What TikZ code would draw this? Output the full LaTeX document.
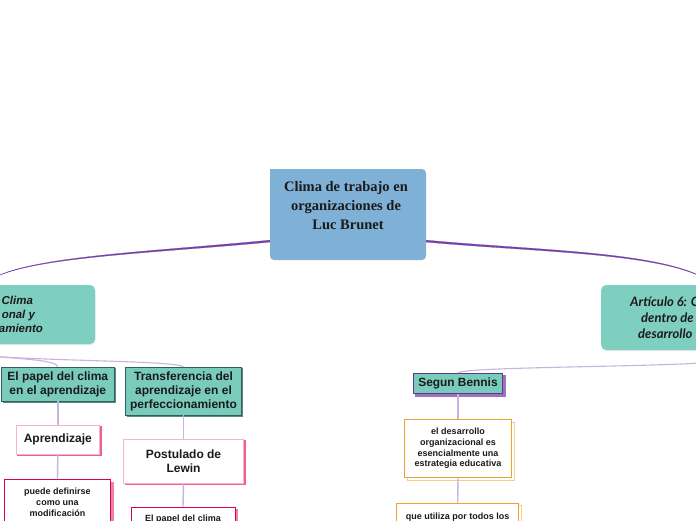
\documentclass[tikz,border=0pt]{standalone}
\usepackage{fontspec}
\setmainfont{Liberation Sans}
\newfontfamily\titlefont{Liberation Serif}
\newfontfamily\artfont{Lato}
\usetikzlibrary{shadows,calc}
\definecolor{rootblue}{HTML}{7FB0D6}
\definecolor{tealmain}{HTML}{7FCFC1}
\definecolor{tealsub}{HTML}{79CBBC}
\definecolor{tealedge}{HTML}{2F5F5A}
\definecolor{tealshadow}{HTML}{5F8A84}
\definecolor{mainline}{HTML}{7441A6}
\definecolor{subline}{HTML}{C9B4DE}
\definecolor{pinklight}{HTML}{F9B4CD}
\definecolor{pinkdark}{HTML}{EF5F90}
\definecolor{crimson}{HTML}{D8004F}
\definecolor{pinkshadow}{HTML}{F27FAB}
\definecolor{orangeedge}{HTML}{F0A030}
\definecolor{orangeshadow}{HTML}{F9CC88}
\definecolor{purpleedge}{HTML}{5B3A8E}
\definecolor{purpleshadow}{HTML}{9A72C0}
\definecolor{ink}{HTML}{1A1A1A}
\tikzset{
  every node/.style={inner sep=0pt,align=center,text=ink},
  offset/.style n args={3}{preaction={draw=#2,fill=#3,transform canvas={xshift=#1,yshift=-#1}}},
  rootbox/.style={fill=rootblue,rounded corners=4pt,font=\titlefont\bfseries\fontsize{14.5}{19}\selectfont},
  mainbox/.style={fill=tealmain,rounded corners=5pt,drop shadow={shadow xshift=0.5pt,shadow yshift=-1pt,opacity=.18}},
  subbox/.style={fill=tealsub,draw=tealedge,line width=.9pt,font=\bfseries\fontsize{12}{14}\selectfont,
    offset={1.6pt}{tealshadow}{tealshadow}},
  bennisbox/.style={fill=tealsub,draw=purpleedge,line width=.9pt,font=\bfseries\fontsize{11.9}{14}\selectfont,
    offset={2.4pt}{purpleshadow}{purpleshadow}},
  pinkbox/.style={fill=white,draw=pinklight,line width=1pt,font=\bfseries\fontsize{12}{14}\selectfont,
    offset={1.8pt}{pinkdark}{pinkdark}},
  leafbox/.style={fill=white,draw=crimson,line width=.8pt,font=\bfseries\fontsize{9}{10.7}\selectfont,
    offset={2.8pt}{pinkshadow}{pinkshadow}},
  orangebox/.style={fill=white,draw=orangeedge,line width=.8pt,font=\bfseries\fontsize{9}{10.7}\selectfont,
    offset={2.8pt}{orangeshadow}{white}},
  stem/.style={draw=subline,line width=1.4pt},
  branch/.style={draw=subline,line width=1.1pt},
  trunk/.style={draw=mainline,fill=mainline,line width=.2pt},
}
\begin{document}
\begin{tikzpicture}[x=1pt,y=-1pt]
\useasboundingbox (0,0) rectangle (696,520);
\clip (0,0) rectangle (696,520);
\fill[white] (0,0) rectangle (696,520);
\coordinate (rootL) at (271,241);
\coordinate (rootR) at (425,241);
\coordinate (leftEnd) at (-12,281);
\coordinate (rightEnd) at (712,283);
\coordinate (leftOut) at (-4,356.5);
\coordinate (rightOut) at (700,363);
% trunks
\draw[trunk] ($(rootL)+(0,-1)$) .. controls (150,252) and (25,256) .. (leftEnd)
  .. controls (25,257) and (150,253.6) .. ($(rootL)+(0,1)$) -- cycle;
\draw[trunk] ($(rootR)+(0,-1)$) .. controls (540,251) and (670,251) .. (rightEnd)
  .. controls (670,252.6) and (540,252.6) .. ($(rootR)+(0,1)$) -- cycle;
% main nodes
\node[rootbox,minimum width=156pt,minimum height=91pt] (root) at (348,214.5)
  {\mbox{Clima de trabajo en\kern4pt}\\\mbox{organizaciones de\kern4pt}\\Luc Brunet\\~};
\fill[rootblue] (270,169) rectangle (275,174);
\node[mainbox,minimum width=155pt,minimum height=59pt,text width=51pt,align=flush right,
  font=\bfseries\itshape\fontsize{11.5}{14}\selectfont] (lbox) at (17.5,314.5)
  {\mbox{Clima\kern10pt}\\\mbox{onal y\kern8pt}\\amiento};
\node[mainbox,minimum width=159pt,minimum height=65pt,text width=101pt,align=flush left,
  font=\artfont\bfseries\itshape\fontsize{13}{16}\selectfont] (rbox) at (680.7,317.5)
  {Artículo 6: C\\\mbox{\kern11pt dentro de}\\\mbox{\kern8pt desarrollo}};
% left children
\node[subbox,minimum width=112.5pt,minimum height=34pt] (papel) at (57.8,384)
  {El papel del clima\\en el aprendizaje};
\node[subbox,minimum width=115.5pt,minimum height=48pt] (trans) at (183.5,391)
  {Transferencia del\\aprendizaje en el\\perfeccionamiento};
\node[pinkbox,minimum width=83.5pt,minimum height=29pt] (apr) at (57.8,439.5) {Aprendizaje};
\node[pinkbox,minimum width=120.5pt,minimum height=44pt] (post) at (183.5,461) {Postulado de\\Lewin};
\node[leafbox,minimum width=105.5pt,minimum height=67pt] (puede) at (57.5,513)
  {puede definirse\\como una\\modificación\\~\\~};
\node[leafbox,minimum width=104pt,minimum height=44pt] (elpapel) at (183,529)
  {El papel del clima\\~\\~};
% right child
\node[bennisbox,minimum width=89.5pt,minimum height=20.5pt] (bennis) at (458,383.5) {Segun Bennis};
\node[orangebox,minimum width=107.5pt,minimum height=58.5pt] (desa) at (458,448.5)
  {el desarrollo\\organizacional es\\esencialmente una\\estrategia educativa};
\node[orangebox,minimum width=122pt,minimum height=48pt] (utiliza) at (457.7,527)
  {que utiliza por todos los\\~\\~};
% connectors
\draw[stem] (papel.south) -- (apr.north);
\draw[stem] (apr.south) -- (puede.north);
\draw[stem] (trans.south) -- (post.north);
\draw[stem] (post.south) -- (elpapel.north);
\draw[stem] (bennis.south) -- (desa.north);
\draw[stem] (desa.south) -- (utiliza.north);
\draw[branch] (leftOut) .. controls (20,359) and (56,360) .. (papel.north);
\draw[branch] (leftOut) .. controls (60,361) and (172,361) .. (trans.north);
\draw[branch] (rightOut) .. controls (640,367) and (465,367) .. (bennis.north);
\end{tikzpicture}
\end{document}
